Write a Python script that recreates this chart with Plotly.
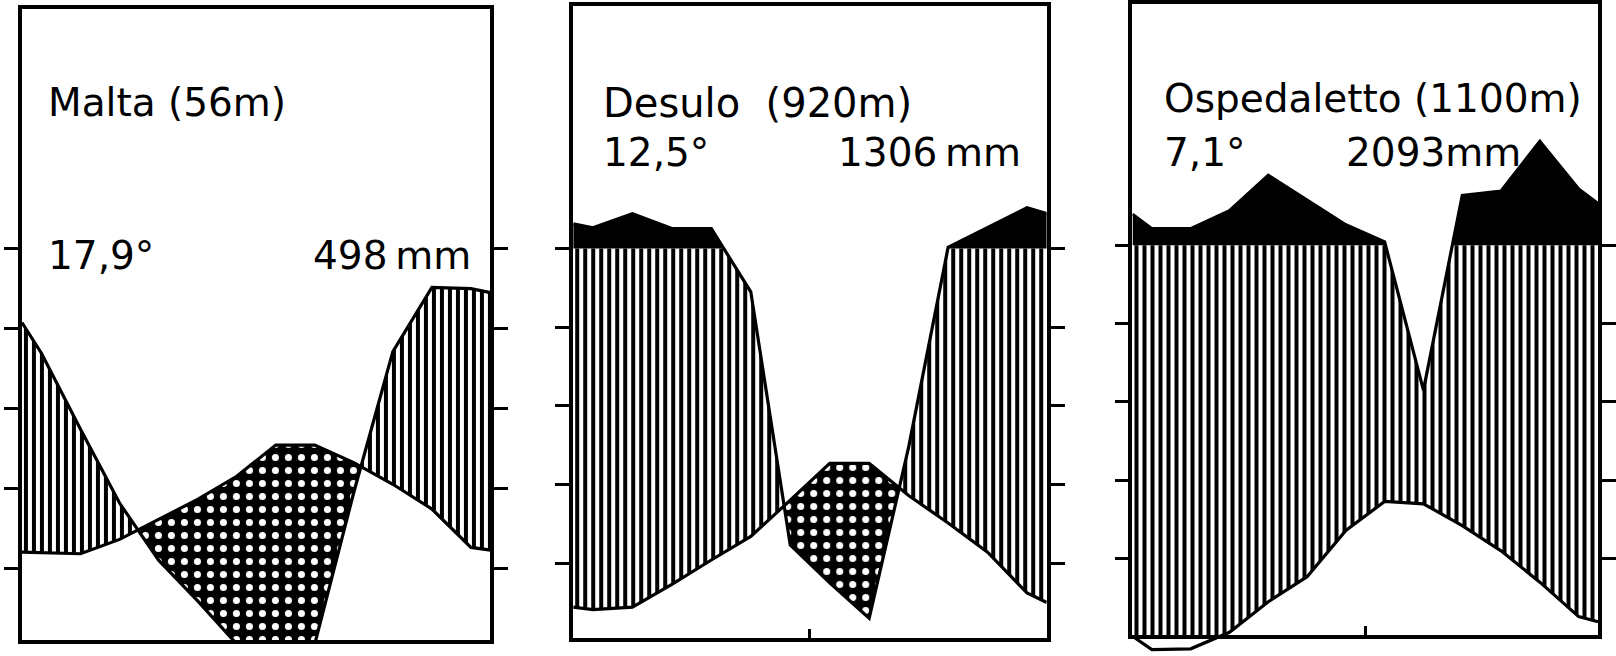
import numpy as np
import plotly.graph_objects as go

# ---------------- data ----------------
months = ["Jan", "Feb", "Mar", "Apr", "May", "Jun",
          "Jul", "Aug", "Sep", "Oct", "Nov", "Dec"]
month_pos = [i + 0.5 for i in range(12)]          # mid-month positions on a 0..12 axis
edge_pos = (0.0, 12.0)                             # left / right edge of the diagram

# Malta (56 m)
malta_temp = [11.9, 11.8, 13.6, 16.1, 18.6, 21.5, 25.4, 25.4, 23.2, 20.5, 17.4, 12.6]
malta_temp_edges = (12.0, 12.25)
malta_prec = [73.8, 54.8, 36.3, 22.0, 11.8, 1.0, 0.0, 1.0, 39.0, 74.2, 90.3, 90.0]
malta_prec_edges = (81.5, 89.0)

# Desulo (920 m)
desulo_temp = [4.1, 4.4, 7.3, 10.4, 13.4, 18.0, 22.7, 22.7, 18.6, 15.1, 11.4, 6.2]
desulo_temp_edges = (4.4, 5.0)
desulo_prec = [153, 189, 151, 151, 89, 24.6, 15, 6, 49.5, 103, 153, 204]
desulo_prec_edges = (163, 189)

# Ospedaletto (1100 m)
osped_temp = [-1.6, -1.5, 0.6, 4.5, 7.7, 13.6, 17.3, 17.0, 14.2, 11.0, 7.0, 2.6]
osped_temp_edges = (0.1, 1.95)
osped_prec = [142, 142, 188, 278, 214, 152, 108, 63, 227, 238, 365, 243]
osped_prec_edges = (179, 206)

titles = ["Malta (56m)", "Desulo\u00a0 (920m)", "Ospedaletto (1100m)"]
mean_temps = ["17,9°", "12,5°", "7,1°"]
totals = ["498\u2009mm", "1306\u2009mm", "2093mm"]

stations = [
    dict(temp=malta_temp, temp_edges=malta_temp_edges, prec=malta_prec, prec_edges=malta_prec_edges),
    dict(temp=desulo_temp, temp_edges=desulo_temp_edges, prec=desulo_prec, prec_edges=desulo_prec_edges),
    dict(temp=osped_temp, temp_edges=osped_temp_edges, prec=osped_prec, prec_edges=osped_prec_edges),
]

# ---------------- layout geometry (pixels in a 1616 x 656 page) ----------------
W, H = 1616, 656
# left, right, top, bottom of each box, pixel of 0 degC, pixels per degC
panels = [
    dict(L=22, R=492, top=8, bottom=640, zero=648.0, scale=8.0),
    dict(L=575, R=1050, top=5, bottom=638, zero=641.75, scale=7.875),
    dict(L=1136, R=1603, top=3, bottom=635, zero=637.0, scale=7.85),
]
text_pos = [  # left x, title y, second-line y, right x of total, title size
    dict(x=46, ty=102, sy=255, rx=474, tsize=39),
    dict(x=603, ty=102, sy=152, rx=1026, tsize=40),
    dict(x=1166, ty=98, sy=152, rx=1528, tsize=39),
]


def prec_to_scale(p):
    """Walter-Lieth: 10 degC = 20 mm up to 100 mm, above that 10 degC = 200 mm."""
    return p / 2.0 if p <= 100 else 50.0 + (p - 100.0) / 20.0


def refine(xs, a, b, level=50.0):
    """Insert crossing points of a/b and b/level so min/max stay piecewise linear."""
    xs = np.asarray(xs, float); a = np.asarray(a, float); b = np.asarray(b, float)
    out = [xs[0]]
    for i in range(len(xs) - 1):
        cand = []
        for d0, d1 in [(a[i] - b[i], a[i + 1] - b[i + 1]), (b[i] - level, b[i + 1] - level)]:
            if d0 * d1 < 0:
                t = d0 / (d0 - d1)
                cand.append(xs[i] + t * (xs[i + 1] - xs[i]))
        out.extend(sorted(cand))
        out.append(xs[i + 1])
    xf = np.array(out)
    return xf, np.interp(xf, xs, a), np.interp(xf, xs, b)


fig = go.Figure()
stripes = dict(shape="|", size=8, solidity=0.5, fgcolor="black", bgcolor="white", fgopacity=1)
dots = dict(shape=".", size=13, solidity=0.23, fgcolor="white", bgcolor="black", fgopacity=1)
invisible = dict(width=0, color="rgba(0,0,0,0)")

for k, st in enumerate(stations):
    xa = "x" if k == 0 else f"x{k + 1}"
    ya = "y" if k == 0 else f"y{k + 1}"
    xs = [edge_pos[0]] + month_pos + [edge_pos[1]]
    T = [st["temp_edges"][0]] + list(st["temp"]) + [st["temp_edges"][1]]
    P = [st["prec_edges"][0]] + list(st["prec"]) + [st["prec_edges"][1]]
    Pt = [prec_to_scale(p) for p in P]
    xf, Tf, Pf = refine(xs, T, Pt)
    Pcap = np.minimum(Pf, 50.0)
    common = dict(xaxis=xa, yaxis=ya, mode="lines", hoverinfo="skip", showlegend=False)

    # humid period (vertical hatching)
    fig.add_trace(go.Scatter(x=xf, y=Tf, line=invisible, **common))
    fig.add_trace(go.Scatter(x=xf, y=np.maximum(Tf, Pcap), line=invisible, fill="tonexty",
                             fillcolor="white", fillpattern=stripes, **common))
    # arid period (dotted)
    fig.add_trace(go.Scatter(x=xf, y=Pcap, line=invisible, **common))
    fig.add_trace(go.Scatter(x=xf, y=np.maximum(Pcap, Tf), line=invisible, fill="tonexty",
                             fillcolor="black", fillpattern=dots, **common))
    # perhumid (> 100 mm, solid black)
    fig.add_trace(go.Scatter(x=xf, y=np.full_like(xf, 50.0), line=invisible, **common))
    fig.add_trace(go.Scatter(x=xf, y=np.maximum(Pf, 50.0), line=invisible, fill="tonexty",
                             fillcolor="black", **common))
    # precipitation curve
    fig.add_trace(go.Scatter(x=xs, y=Pt, line=dict(color="black", width=3.2), **common))
    # temperature curve (panel 3 uses an extended axis so the part below 0 is visible)
    tcommon = dict(common)
    if k == 2:
        tcommon["yaxis"] = "y4"
    fig.add_trace(go.Scatter(x=xs, y=T, line=dict(color="black", width=3.2), **tcommon))

layout = dict(
    width=W, height=H, margin=dict(l=0, r=0, t=0, b=0),
    paper_bgcolor="white", plot_bgcolor="rgba(0,0,0,0)", showlegend=False, hovermode=False,
)
for k, pnl in enumerate(panels):
    xname = "xaxis" if k == 0 else f"xaxis{k + 1}"
    yname = "yaxis" if k == 0 else f"yaxis{k + 1}"
    ysuffix = "y" if k == 0 else f"y{k + 1}"
    xsuffix = "x" if k == 0 else f"x{k + 1}"
    layout[xname] = dict(
        domain=[pnl["L"] / W, pnl["R"] / W], range=[0, 12], anchor=ysuffix,
        showline=True, mirror=True, linecolor="black", linewidth=3.5,
        showgrid=False, zeroline=False, tickvals=[6], ticks="inside", ticklen=9,
        tickwidth=2.5, tickcolor="black", showticklabels=False, fixedrange=True,
    )
    layout[yname] = dict(
        domain=[1 - pnl["bottom"] / H, 1 - pnl["top"] / H],
        range=[(pnl["zero"] - pnl["bottom"]) / pnl["scale"], (pnl["zero"] - pnl["top"]) / pnl["scale"]],
        anchor=xsuffix, showline=True, mirror="ticks", linecolor="black", linewidth=3.5,
        showgrid=False, zeroline=False, tickvals=[10, 20, 30, 40, 50], ticks="outside",
        ticklen=14, tickwidth=3, tickcolor="black", showticklabels=False, fixedrange=True,
    )
p3 = panels[2]
ext_bottom = 656
layout["yaxis4"] = dict(
    domain=[1 - ext_bottom / H, 1 - p3["top"] / H],
    range=[(p3["zero"] - ext_bottom) / p3["scale"], (p3["zero"] - p3["top"]) / p3["scale"]],
    anchor="x3", visible=False, showgrid=False, zeroline=False, fixedrange=True,
)
fig.update_layout(**layout)

for k, tp in enumerate(text_pos):
    font = dict(family="DejaVu Sans", size=39, color="black")
    tfont = dict(font, size=tp["tsize"])
    fig.add_annotation(text=titles[k], x=tp["x"] / W, y=1 - tp["ty"] / H, xref="paper", yref="paper",
                       xanchor="left", yanchor="middle", showarrow=False, font=tfont)
    fig.add_annotation(text=mean_temps[k], x=tp["x"] / W, y=1 - tp["sy"] / H, xref="paper", yref="paper",
                       xanchor="left", yanchor="middle", showarrow=False, font=font)
    fig.add_annotation(text=totals[k], x=tp["rx"] / W, y=1 - tp["sy"] / H, xref="paper", yref="paper",
                       xanchor="right", yanchor="middle", showarrow=False, font=font)

fig.write_html("out.html", config={"displayModeBar": False},
               post_script="document.body.style.margin='0px';")
